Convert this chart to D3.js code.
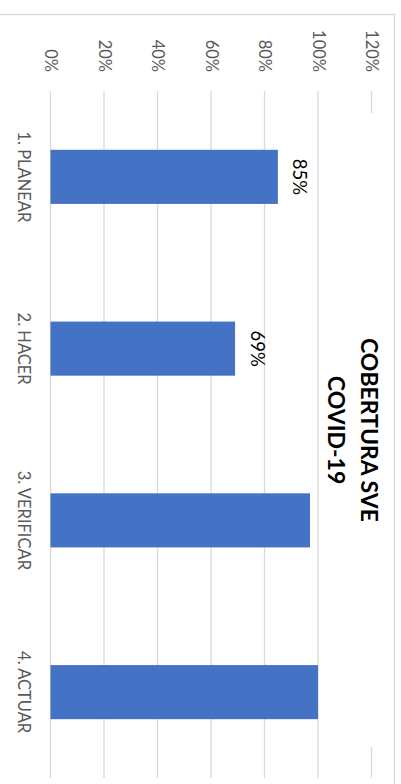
<!DOCTYPE html>
<html>
<head>
<meta charset="utf-8">
<script src="https://cdn.jsdelivr.net/npm/d3@7"></script>
<style>
    html, body { margin: 0; padding: 0; background: #fff; }
    svg { display: block; }
    text { font-family: Lato, "Open Sans", sans-serif; }
</style>
</head>
<body>
<div id="chart"></div>
<script>
// Chart data.
var categories = ["1. PLANEAR", "2. HACER", "3. VERIFICAR", "4. ACTUAR"];
var values = [0.85, 0.69, 0.97, 1.00];
var value_labels = ["85%", "69%", null, null];
var ticks = [0, 0.2, 0.4, 0.6, 0.8, 1.0, 1.2];
var title_lines = ["COBERTURA SVE", "COVID-19"];

// Canvas dimensions.
var width = 401, height = 784;

var svg = d3.select("div#chart").append("svg")
    .attr("width", width)
    .attr("height", height);

// Chart border (the whole chart is turned 90 degrees clockwise).
svg.append("path")
    .attr("d", "M0,14.5 H394.5 V" + height)
    .style("fill", "none")
    .style("stroke", "#d9d9d9")
    .style("stroke-width", 1.3);

// Value scale runs left to right, categories top to bottom.
var x = d3.scaleLinear()
    .domain([0, 1.2])
    .range([50.5, 371.5]);

var y = d3.scaleBand()
    .domain(categories)
    .range([91, 778])
    .paddingInner(0.685)
    .paddingOuter(0.3425);

// Gridlines.
svg.append("g")
    .attr("id", "grid")
    .selectAll("line")
        .data(ticks)
        .join("line")
            .attr("x1", d => x(d))
            .attr("x2", d => x(d))
            .attr("y1", 91)
            .attr("y2", 778)
            .style("stroke", "#d9d9d9")
            .style("stroke-width", 1.3);

// Value axis labels, rotated.
var x_axis = svg.append("g")
    .attr("id", "x_axis")
    .attr("transform", "translate(0, 72)")
    .call(d3.axisTop(x).tickValues(ticks).tickFormat(d3.format(".0%")).tickSize(0));

x_axis.select(".domain").remove();
x_axis.selectAll("text")
    .attr("x", 0).attr("y", 0)
    .attr("dy", "0.35em")
    .attr("transform", "rotate(90)")
    .style("text-anchor", "end")
    .style("font-size", "16.5px")
    .style("fill", "#595959");

// Category axis labels, rotated.
var y_axis = svg.append("g")
    .attr("id", "y_axis")
    .attr("transform", "translate(24, 0)")
    .call(d3.axisLeft(y).tickSize(0));

y_axis.select(".domain").remove();
y_axis.selectAll("text")
    .attr("x", 0).attr("y", 0)
    .attr("dy", "0.35em")
    .attr("transform", "rotate(90)")
    .style("text-anchor", "middle")
    .style("font-size", "16.5px")
    .style("fill", "#595959");

// Bars.
svg.append("g")
    .attr("id", "bars")
    .selectAll("rect")
        .data(categories)
        .join("rect")
            .attr("x", x(0))
            .attr("y", d => y(d))
            .attr("width", (d, i) => x(values[i]) - x(0))
            .attr("height", y.bandwidth())
            .style("fill", "#4472c4");

// Data labels, only where the source shows them.
svg.append("g")
    .attr("id", "labels")
    .selectAll("text")
        .data(categories.filter((d, i) => value_labels[i] !== null))
        .join("text")
            .attr("transform", d => {
                var i = categories.indexOf(d);
                return "translate(" + (x(values[i]) + 22) + "," + (y(d) + y.bandwidth() / 2) + ") rotate(90)";
            })
            .attr("dy", "0.35em")
            .style("text-anchor", "middle")
            .style("font-size", "18.5px")
            .style("fill", "#000")
            .text(d => value_labels[categories.indexOf(d)]);

// Title, with white box that hides the 120% gridline behind it.
var title_cy = 430;
svg.append("rect")
    .attr("x", 322)
    .attr("y", 113)
    .attr("width", 62)
    .attr("height", 634)
    .style("fill", "#fff");

svg.append("g")
    .attr("id", "title")
    .selectAll("text")
        .data(title_lines)
        .join("text")
            .attr("transform", (d, i) => "translate(" + (369 - i * 33) + "," + title_cy + ") rotate(90)")
            .attr("dy", "0.35em")
            .style("text-anchor", "middle")
            .style("font-size", "23px")
            .style("font-weight", "bold")
            .style("fill", "#000")
            .text(d => d);
</script>
</body>
</html>
